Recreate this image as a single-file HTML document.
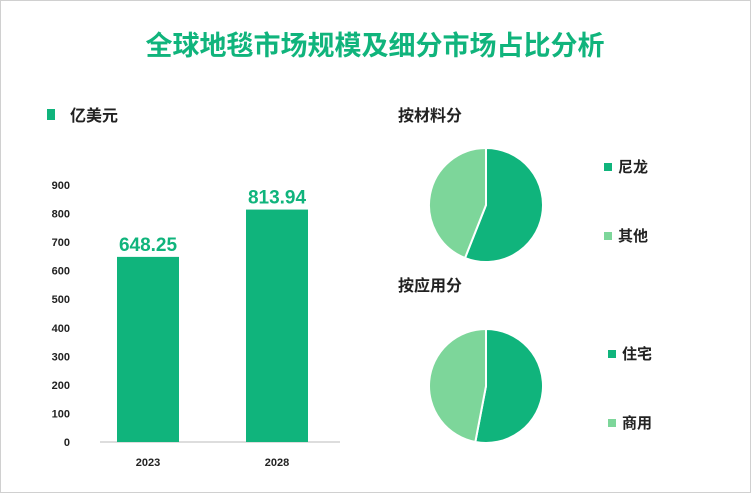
<!DOCTYPE html>
<html><head><meta charset="utf-8"><style>
body{margin:0;width:751px;height:493px;background:#fff;font-family:"Liberation Sans","Noto Sans CJK SC",sans-serif;overflow:hidden}
#frame{position:absolute;left:0;top:0;width:749px;height:491px;border:1px solid #d0d0d0}
</style></head><body>
<div id="frame"></div>
<svg width="751" height="493" style="position:absolute;left:0;top:0">
<text x="375" y="55" text-anchor="middle" font-size="27" font-weight="bold" fill="#10b47c" font-family="Liberation Sans,Noto Sans CJK SC,sans-serif">全球地毯市场规模及细分市场占比分析</text>
<rect x="47" y="109" width="8" height="11" fill="#10b47c"/>
<text x="70" y="121" font-size="16" font-weight="bold" fill="#222">亿美元</text>
<g id="axis"></g><g id="bars"></g>
<text x="398" y="121" font-size="16" font-weight="bold" fill="#222">按材料分</text>
<text x="398" y="291" font-size="16" font-weight="bold" fill="#222">按应用分</text>
<g id="pies"></g>
</svg>
<script>
const years=["2023","2028"];
const values=[648.25,813.94];
const yTicks=[0,100,200,300,400,500,600,700,800,900];
const pie1Labels=["尼龙","其他"];
const pie1Values=[56,44];
const pie2Labels=["住宅","商用"];
const pie2Values=[53,47];
const colors=["#10b47c","#7dd69a"];
const NS="http://www.w3.org/2000/svg";
function mk(t,a,p){const e=document.createElementNS(NS,t);for(const k in a)e.setAttribute(k,a[k]);p.appendChild(e);return e;}
const y0=442,yTop=185,yMax=900;
const ys=v=>y0-(v/yMax)*(y0-yTop);
const bx=[148,277];
const ax=document.getElementById('axis');
yTicks.forEach(t=>{const e=mk('text',{x:70,y:ys(t)+4,'text-anchor':'end','font-size':11,'font-weight':'bold',fill:'#222'},ax);e.textContent=t;

});
const l=mk('line',{x1:100,x2:340,y1:y0,y2:y0,stroke:'#bbb'},ax);


const bg=document.getElementById('bars');
values.forEach((v,i)=>{const r=mk('rect',{x:bx[i]-31,y:ys(v),width:62,height:y0-ys(v),fill:'#10b47c'},bg);


const t=mk('text',{x:bx[i],y:ys(v)-6,'text-anchor':'middle','font-size':19,'font-weight':'bold',fill:'#10b47c'},bg);t.textContent=v.toFixed(2);


const c=mk('text',{x:bx[i],y:466,'text-anchor':'middle','font-size':11,'font-weight':'bold',fill:'#222'},bg);c.textContent=years[i];

});
const pg=document.getElementById('pies');
function pie(cx,cy,r,vals,labels,ly,name){const tot=vals.reduce((a,b)=>a+b,0);let a0=0;
vals.forEach((v,i)=>{const a1=a0+v/tot*2*Math.PI;const p=(a)=>[cx+r*Math.sin(a),cy-r*Math.cos(a)];const s=p(a0),e=p(a1);
const path=mk('path',{d:`M${cx},${cy}L${s[0]},${s[1]}A${r},${r} 0 ${a1-a0>Math.PI?1:0} 1 ${e[0]},${e[1]}Z`,fill:colors[i],stroke:'#fff','stroke-width':2},pg);


a0=a1;
const m=mk('rect',{x:ly[0],y:ly[1][i]-10,width:8,height:8,fill:colors[i]},pg);


const t=mk('text',{x:ly[0]+14,y:ly[1][i]-1,'font-size':15,'font-weight':'bold',fill:'#222'},pg);t.textContent=labels[i];

});}
pie(486,205,57,pie1Values,pie1Labels,[604,[173,242]],'pie1');
pie(486,386,57,pie2Values,pie2Labels,[608,[360,429]],'pie2');
</script>
</body></html>
